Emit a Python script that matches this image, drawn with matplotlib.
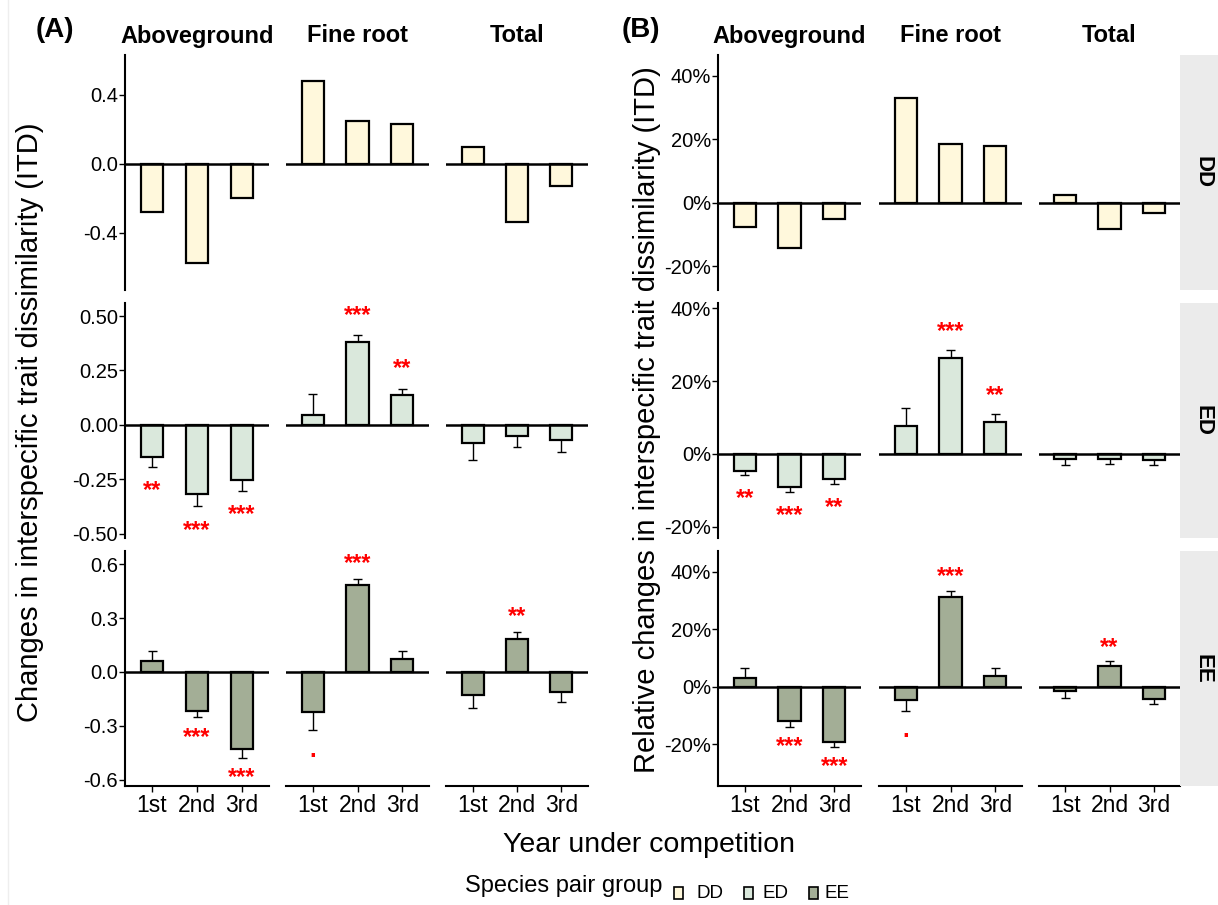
import matplotlib.pyplot as plt
from matplotlib.patches import Rectangle
from matplotlib.lines import Line2D
from matplotlib.ticker import FixedLocator, FuncFormatter
import numpy as np

plt.rcParams['font.family'] = ['Liberation Sans', 'DejaVu Sans']

W, H = 1218, 905

years = ['1st', '2nd', '3rd']
traits = ['Aboveground', 'Fine root', 'Total']
groups = ['DD', 'ED', 'EE']
group_colors = {'DD': '#FFF8DC', 'ED': '#DAE8DC', 'EE': '#A3AE96'}

# (A) change in ITD: means, SE (DD has a single pair -> no SE)
itd_dd_above = [-0.28, -0.573, -0.197]
itd_dd_root  = [0.477, 0.249, 0.228]
itd_dd_total = [0.099, -0.335, -0.127]

itd_ed_above = [-0.147, -0.319, -0.252]
itd_ed_root  = [0.044, 0.382, 0.135]
itd_ed_total = [-0.083, -0.051, -0.068]
se_ed_above  = [0.046, 0.056, 0.053]
se_ed_root   = [0.100, 0.029, 0.031]
se_ed_total  = [0.078, 0.050, 0.059]

itd_ee_above = [0.061, -0.218, -0.431]
itd_ee_root  = [-0.225, 0.488, 0.073]
itd_ee_total = [-0.130, 0.182, -0.112]
se_ee_above  = [0.055, 0.035, 0.047]
se_ee_root   = [0.099, 0.031, 0.046]
se_ee_total  = [0.069, 0.039, 0.055]

# (B) relative change in ITD (%)
rel_dd_above = [-7.6, -14.4, -5.1]
rel_dd_root  = [32.9, 18.4, 17.9]
rel_dd_total = [2.4, -8.3, -3.1]

rel_ed_above = [-4.7, -9.0, -6.9]
rel_ed_root  = [7.7, 26.5, 8.8]
rel_ed_total = [-1.5, -1.5, -1.7]
rse_ed_above = [1.1, 1.5, 1.4]
rse_ed_root  = [5.0, 2.0, 2.1]
rse_ed_total = [1.6, 1.3, 1.4]

rel_ee_above = [3.1, -11.9, -19.1]
rel_ee_root  = [-4.6, 31.3, 3.8]
rel_ee_total = [-1.5, 7.3, -4.2]
rse_ee_above = [3.3, 2.2, 2.0]
rse_ee_root  = [3.9, 2.1, 2.8]
rse_ee_total = [2.5, 1.5, 1.9]

# significance codes (same layout in both panels except ED/Aboveground)
sig_none       = ['', '', '']
sig_ed_above_a = ['**', '***', '***']
sig_ed_above_b = ['**', '***', '**']
sig_ed_root    = ['', '***', '**']
sig_ee_above   = ['', '***', '***']
sig_ee_root    = ['.', '***', '']
sig_ee_total   = ['', '**', '']

panel_a = {
    'DD': ([itd_dd_above, itd_dd_root, itd_dd_total], None, None),
    'ED': ([itd_ed_above, itd_ed_root, itd_ed_total],
           [se_ed_above, se_ed_root, se_ed_total],
           [sig_ed_above_a, sig_ed_root, sig_none]),
    'EE': ([itd_ee_above, itd_ee_root, itd_ee_total],
           [se_ee_above, se_ee_root, se_ee_total],
           [sig_ee_above, sig_ee_root, sig_ee_total]),
}
panel_b = {
    'DD': ([rel_dd_above, rel_dd_root, rel_dd_total], None, None),
    'ED': ([rel_ed_above, rel_ed_root, rel_ed_total],
           [rse_ed_above, rse_ed_root, rse_ed_total],
           [sig_ed_above_b, sig_ed_root, sig_none]),
    'EE': ([rel_ee_above, rel_ee_root, rel_ee_total],
           [rse_ee_above, rse_ee_root, rse_ee_total],
           [sig_ee_above, sig_ee_root, sig_ee_total]),
}

# free y scales per row
ylims_a = {'DD': (-0.73, 0.63), 'ED': (-0.52, 0.56), 'EE': (-0.636, 0.675)}
yticks_a = {'DD': [-0.4, 0.0, 0.4], 'ED': [-0.5, -0.25, 0, 0.25, 0.5],
            'EE': [-0.6, -0.3, 0.0, 0.3, 0.6]}
ylims_b = {'DD': (-27.5, 46.5), 'ED': (-23.1, 41.5), 'EE': (-34.5, 47.2)}
yticks_b = {g: [-20, 0, 20, 40] for g in groups}

# gap between error bar end and its significance label (data units)
sig_gap_a = (0.11, 0.09)   # (above, below)
sig_gap_b = (6.3, 5.2)

# panel boxes in pixels
rows_px = [(55, 290), (303, 538), (551, 786)]
cols_a = [(125, 269), (286, 429), (446, 588)]
cols_b = [(718, 861), (879, 1022), (1039, 1180)]


def px_axes(fig, x0, y0, x1, y1):
    return fig.add_axes([x0 / W, 1 - y1 / H, (x1 - x0) / W, (y1 - y0) / H])


def fmt_a(g):
    if g == 'ED':
        return FuncFormatter(lambda v, p: f'{v:.2f}')
    return FuncFormatter(lambda v, p: f'{v:.1f}')


def fmt_pct(v, p):
    return f'{v:.0f}%'


def draw_facet(ax, means, ses, sigs, color, ylim, ticks, fmt, gap,
               first_col, last_row):
    x = np.arange(1, 4)
    ax.bar(x, means, width=0.5, color=color, edgecolor='black',
           linewidth=1.6, zorder=3)
    if ses is not None:
        ends = [m + np.sign(m) * s for m, s in zip(means, ses)]
        ax.vlines(x, means, ends, color='black', lw=1.0, zorder=2)
        ax.hlines(ends, x - 0.1, x + 0.1, color='black', lw=1.0, zorder=2)
        for xi, m, e, s in zip(x, means, ends, sigs):
            if not s:
                continue
            ys = e + gap[0] if m > 0 else e - gap[1]
            # asterisks sit high in the line box, nudge the anchor down a bit
            ax.annotate(s, (xi, ys), xytext=(0, -3), textcoords='offset points',
                        ha='center', va='center', color='red',
                        fontsize=17, fontweight='bold')
    ax.axhline(0, color='black', lw=1.8, zorder=4)
    ax.set_xlim(0.4, 3.6)
    ax.set_ylim(*ylim)
    ax.patch.set_alpha(0)
    for sp in ax.spines.values():
        sp.set_visible(False)
        sp.set_linewidth(1.5)

    if first_col:
        ax.spines['left'].set_visible(True)
        ax.yaxis.set_major_locator(FixedLocator(ticks))
        ax.yaxis.set_major_formatter(fmt)
        ax.tick_params(axis='y', length=4, width=1.0, labelsize=14.5, pad=1)
    else:
        ax.set_yticks([])

    if last_row:
        ax.spines['bottom'].set_visible(True)
        ax.set_xticks(x)
        ax.set_xticklabels(years)
        ax.tick_params(axis='x', length=4, width=1.0, labelsize=16.5, pad=2)
    else:
        ax.set_xticks([])


fig = plt.figure(figsize=(W / 100, H / 100), dpi=100)

for data, ylims, yticks, cols, gap, is_a in [
        (panel_a, ylims_a, yticks_a, cols_a, sig_gap_a, True),
        (panel_b, ylims_b, yticks_b, cols_b, sig_gap_b, False)]:
    for r, g in enumerate(groups):
        means_list, ses_list, sigs_list = data[g]
        y0, y1 = rows_px[r]
        for c, trait in enumerate(traits):
            x0, x1 = cols[c]
            ax = px_axes(fig, x0, y0, x1, y1)
            fmt = fmt_a(g) if is_a else FuncFormatter(fmt_pct)
            draw_facet(ax, means_list[c],
                       None if ses_list is None else ses_list[c],
                       None if sigs_list is None else sigs_list[c],
                       group_colors[g], ylims[g], yticks[g], fmt, gap,
                       c == 0, r == 2)
            if r == 0:
                fig.text((x0 + x1) / 2 / W, 1 - 36 / H, trait, ha='center',
                         va='center', fontsize=17, fontweight='bold')

# row strips on the right of panel B
for r, g in enumerate(groups):
    y0, y1 = rows_px[r]
    fig.patches.append(Rectangle((1180 / W, 1 - y1 / H), 60 / W, (y1 - y0) / H,
                                 transform=fig.transFigure, facecolor='#EBEBEB',
                                 edgecolor='none'))
    fig.text(1203 / W, 1 - (y0 + y1) / 2 / H, g, rotation=-90, ha='center',
             va='center', fontsize=16, fontweight='bold')

# panel tags and axis titles
fig.text(55 / W, 1 - 30 / H, '(A)', ha='center', va='center', fontsize=20,
         fontweight='bold')
fig.text(641 / W, 1 - 30 / H, '(B)', ha='center', va='center', fontsize=20,
         fontweight='bold')
fig.text(30 / W, 1 - 422 / H, 'Changes in interspecific trait dissimilarity (ITD)',
         rotation=90, ha='center', va='center', fontsize=21)
fig.text(647 / W, 1 - 420 / H,
         'Relative changes in interspecific trait dissimilarity (ITD)',
         rotation=90, ha='center', va='center', fontsize=21)
fig.text(649 / W, 1 - 845 / H, 'Year under competition', ha='center',
         va='center', fontsize=20.5)

# legend
fig.text(465 / W, 1 - 886 / H, 'Species pair group', ha='left', va='center',
         fontsize=17)
for g, kx, tx in [('DD', 674, 697), ('ED', 744, 763), ('EE', 809, 825)]:
    fig.patches.append(Rectangle((kx / W, 1 - 899 / H), 9 / W, 12 / H,
                                 transform=fig.transFigure,
                                 facecolor=group_colors[g], edgecolor='black',
                                 linewidth=1.2))
    fig.text(tx / W, 1 - 893 / H, g, ha='left', va='center', fontsize=13.5)

# faint border line at the left edge
fig.lines.append(Line2D([8 / W, 8 / W], [0, 1], transform=fig.transFigure,
                        color='#EEEEEE', lw=1))

fig.savefig('out.png', dpi=100)
